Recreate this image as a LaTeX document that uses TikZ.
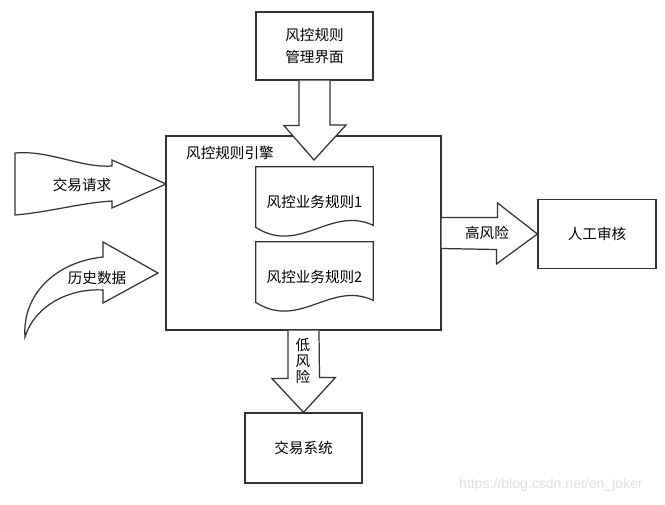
\documentclass[tikz,border=0pt]{standalone}
\usepackage{fontspec}
\setmainfont{Noto Sans CJK SC}
\newfontfamily\urlfont{Liberation Sans}
\usetikzlibrary{positioning}
\begin{document}
\begin{tikzpicture}[x=0.02cm,y=-0.02cm,font=\fontsize{8.3}{12}\selectfont,line join=miter]
		\tikzset{line/.style={draw=black!80,line width=0.7pt},
			box/.style={line,fill=white,inner sep=0pt,align=center},
			blockarrow/.style={line,fill=white},
			docnode/.style={inner sep=0pt,minimum width=2.34cm,minimum height=1.4cm}}
		\useasboundingbox (0,0) rectangle (665,504);
		% boxes
		\node[box,minimum width=5.5cm,minimum height=3.88cm] (engine) at (303.5,233) {};
		\node[anchor=west] (enginelabel) at (180,153) {风控规则引擎};
		\node[box,minimum width=2.34cm,minimum height=1.36cm] (rules) at (314.5,46) {风控规则\\管理界面};
		\node[box,minimum width=2.36cm,minimum height=1.38cm] (review) at (597,234) {人工审核};
		\node[box,minimum width=2.34cm,minimum height=1.4cm] (trade) at (303.5,448) {交易系统};
		% rule documents
		\foreach \n/\y in {1/202,2/277}{
			\node[docnode] (rule\n) at (314.5,\y) {风控业务规则\n};
			\draw[line] ([yshift=0.24cm]rule\n.south east) .. controls +(-43,-20) and +(44,28) .. ([yshift=0.2cm]rule\n.south west) -- (rule\n.north west) -- (rule\n.north east) -- cycle;
		}
		% block arrows
		\coordinate (tipA) at (314,160);
		\filldraw[blockarrow] ([xshift=-0.31cm]rules.south) -- ++(0,45) -- ++(-15,0) -- (tipA) -- ++(32,-35) -- ++(-16,0) -- ([xshift=0.31cm]rules.south);
		\filldraw[blockarrow] ([xshift=-0.31cm]engine.south) -- ++(0,48) -- ++(-16,0) -- (trade.north) -- ++(32,-35) -- ++(-16,0) -- ([xshift=0.31cm]engine.south);
		\node[font=\fontsize{8.3}{9}\selectfont,align=center] (low) at (303,361) {低\\风\\险};
		\filldraw[blockarrow] ([yshift=0.31cm]engine.east) -- ++(56,0) -- ++(0,-14.5) -- (review.west) -- ++(-41,30) -- ++(0,-14.5) -- ([yshift=-0.31cm]engine.east);
		\node (high) at (487,233) {高风险};
		% inputs
		\filldraw[blockarrow] (15,153) .. controls (50,150) and (80,168) .. (112,166) -- (112,160) -- (166,184) -- (112,208) -- (112,201) .. controls (80,203) and (50,212) .. (15,215) -- cycle;
		\node (req) at (82,185) {交易请求};
		\filldraw[blockarrow] (25,337) .. controls (22,295) and (55,262) .. (103,257) -- (103,242) -- (158,273) -- (103,303) -- (103,290) .. controls (70,288) and (35,305) .. (25,337) -- cycle;
		\node (hist) at (97,278) {历史数据};
		\node[font=\urlfont\fontsize{8}{9}\selectfont,text=black!12] (mark) at (551,485) {https://blog.csdn.net/en\_joker};
	\end{tikzpicture}
\end{document}
